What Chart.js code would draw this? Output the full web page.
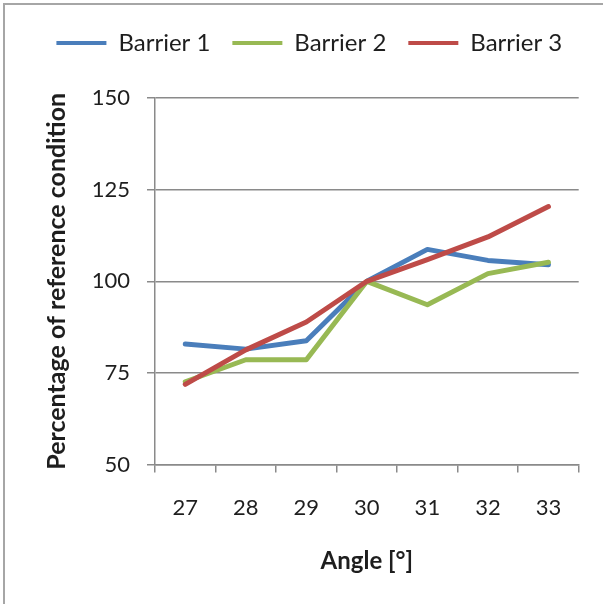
<!DOCTYPE html>
<html>
<head>
<meta charset="utf-8">
<script src="https://cdn.jsdelivr.net/npm/chart.js@4.4.1/dist/chart.umd.min.js"></script>
<style>
  html, body { margin: 0; padding: 0; background: #ffffff; }
  #wrap { position: relative; width: 603px; height: 604px; overflow: hidden; }
  #frame { position: absolute; left: 3px; top: 3px; width: 700px; height: 700px;
           border-left: 2px solid #a6a6a6; border-top: 2px solid #a6a6a6; pointer-events: none; }
  canvas { position: absolute; left: 0; top: 0; }
</style>
</head>
<body>
<div id="wrap">
  <canvas id="chart" width="603" height="604"></canvas>
  <div id="frame"></div>
</div>
<script>
// Angles and the three barrier series (percent of the reference condition)
const angles = ["27", "28", "29", "30", "31", "32", "33"];
const barrier1 = [82.9, 81.5, 83.8, 100, 108.7, 105.7, 104.5];
const barrier2 = [72.6, 78.6, 78.6, 100, 93.6, 102.1, 105.2];
const barrier3 = [71.9, 81.3, 88.9, 100, 105.9, 112.1, 120.4];
const seriesNames = ["Barrier 1", "Barrier 2", "Barrier 3"];
const yTicks = [50, 75, 100, 125, 150];

const colors = ["#4a7ebb", "#98b954", "#be4b48"];
const FONT = "Lato, 'Liberation Sans', sans-serif";
const textColor = "#1e1e1e";
const axisGray = "#8a8a8a";

function lineSet(label, data, color, order) {
  return {
    label, data, order,
    borderColor: color, backgroundColor: color,
    borderWidth: 5, pointRadius: 0, tension: 0,
    borderCapStyle: "round", borderJoinStyle: "round"
  };
}

// Extra space below the legend row, and a small shift of the legend to the right
const legendPlacement = {
  id: "legendPlacement",
  beforeInit(chart) {
    const fit = chart.legend.fit;
    chart.legend.fit = function () {
      fit.bind(chart.legend)();
      this.height += 33;
    };
  },
  afterLayout(chart) {
    chart.legend.left += 20;
    chart.legend.right += 20;
  }
};

new Chart(document.getElementById("chart"), {
  type: "line",
  data: {
    labels: angles,
    datasets: [
      lineSet(seriesNames[0], barrier1, colors[0], 3),
      lineSet(seriesNames[1], barrier2, colors[1], 2),
      lineSet(seriesNames[2], barrier3, colors[2], 1)
    ]
  },
  options: {
    responsive: false,
    devicePixelRatio: 1,
    animation: false,
    layout: { padding: { left: 0, right: 24.3, top: 9, bottom: 0 } },
    plugins: {
      tooltip: { enabled: false },
      legend: {
        position: "top",
        align: "center",
        labels: {
          boxWidth: 50,
          boxHeight: 4,
          padding: 22,
          color: textColor,
          font: { family: FONT, size: 24 },
          sort: (a, b) => a.datasetIndex - b.datasetIndex,
          generateLabels(chart) {
            const items = Chart.defaults.plugins.legend.labels.generateLabels(chart);
            items.forEach(it => { it.lineWidth = 0; });
            return items;
          }
        }
      }
    },
    scales: {
      x: {
        type: "category",
        offset: true,
        afterFit(scale) { scale.height = 604 - 464.6; },
        grid: { offset: true, drawOnChartArea: false, tickLength: 8, color: axisGray, lineWidth: 1.5 },
        border: { color: axisGray, width: 1.5 },
        ticks: { color: textColor, padding: 22, font: { family: FONT, size: 22 } },
        title: {
          display: true, text: "Angle [°]", color: textColor,
          font: { family: FONT, size: 24, weight: "bold" },
          padding: { top: 0, bottom: 28 }
        }
      },
      y: {
        min: 50, max: 150,
        afterFit(scale) { scale.width = 155; },
        afterBuildTicks(scale) { scale.ticks = yTicks.map(v => ({ value: v })); },
        grid: { color: axisGray, lineWidth: 1.5, tickLength: 8 },
        border: { color: axisGray, width: 1.5 },
        ticks: { color: textColor, padding: 17, font: { family: FONT, size: 22 } },
        title: {
          display: true, text: "Percentage of reference condition", color: textColor,
          font: { family: FONT, size: 25, weight: "bold" },
          padding: { top: 42, bottom: 0 }
        }
      }
    }
  },
  plugins: [legendPlacement]
});
</script>
</body>
</html>
